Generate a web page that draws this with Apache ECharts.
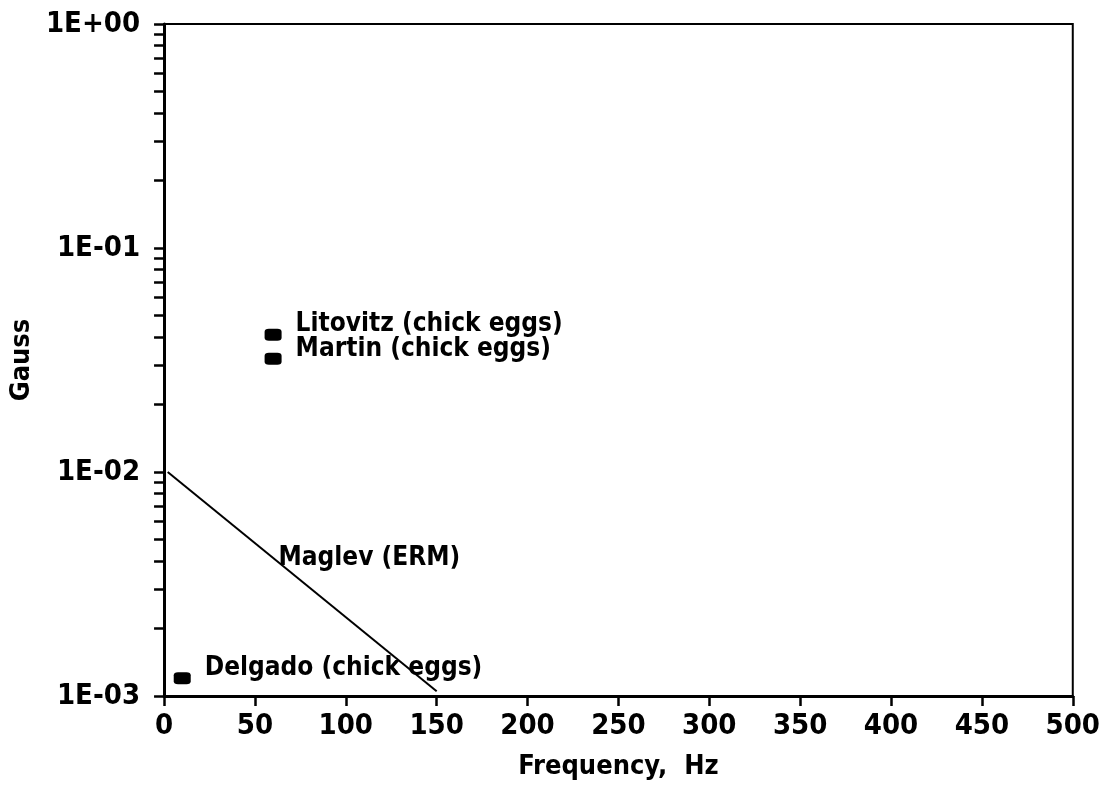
<!DOCTYPE html>
<html>
<head>
<meta charset="utf-8">
<script src="https://cdn.jsdelivr.net/npm/echarts@6/dist/echarts.min.js"></script>
<style>
html,body{margin:0;padding:0;background:#fff;}
#chart{width:1103px;height:785px;}
</style>
</head>
<body>
<div id="chart"></div>
<script>
// ---- data ----
var studyNames = ['Litovitz (chick eggs)', 'Martin (chick eggs)', 'Delgado (chick eggs)'];
var studyFreq = [60, 60, 10];
var studyGauss = [0.041, 0.032, 0.0012];

var maglevName = 'Maglev (ERM)';
var maglevFreq = [2, 150];
var maglevGauss = [0.01, 0.00105];
var maglevLabelAt = [63, 0.0041];

var xTicks = [0, 50, 100, 150, 200, 250, 300, 350, 400, 450, 500];
var yTickValues = [0.001, 0.01, 0.1, 1];
var yTickLabels = ['1E-03', '1E-02', '1E-01', '1E+00'];

// minor ticks at 1..9 x each decade
var yMinor = [];
for (var d = 0; d < yTickValues.length; d++) {
  for (var m = 1; m <= 9; m++) {
    var v = yTickValues[d] * m;
    if (v <= yTickValues[yTickValues.length - 1] + 1e-12) yMinor.push(v);
  }
}

var FONT = '"DejaVu Sans Condensed", "DejaVu Sans", sans-serif';
var chart = echarts.init(document.getElementById('chart'), null, {renderer: 'canvas'});

var scatterData = studyNames.map(function (n, i) { return {name: n, value: [studyFreq[i], studyGauss[i]]}; });

chart.setOption({
  backgroundColor: '#fff',
  animation: false,
  grid: {left: 157, right: 26, top: 24, bottom: 85, show: true, borderColor: '#000', borderWidth: 2, backgroundColor: 'transparent'},
  xAxis: {
    type: 'value', min: xTicks[0], max: xTicks[xTicks.length - 1], interval: 50,
    name: 'Frequency,  Hz', nameLocation: 'middle', nameGap: 57,
    nameTextStyle: {fontFamily: FONT, fontSize: 27, fontWeight: 'bold', color: '#000'},
    axisLine: {show: true, lineStyle: {color: '#000', width: 3}},
    axisTick: {show: true, inside: false, length: 10, lineStyle: {color: '#000', width: 2.5}},
    axisLabel: {fontFamily: FONT, fontSize: 29, fontWeight: 'bold', color: '#000', margin: 16},
    splitLine: {show: false}
  },
  yAxis: {
    type: 'log', logBase: 10, min: yTickValues[0], max: yTickValues[yTickValues.length - 1],
    name: 'Gauss', nameLocation: 'middle', nameGap: 124,
    nameTextStyle: {fontFamily: FONT, fontSize: 27, fontWeight: 'bold', color: '#000'},
    axisLine: {show: true, lineStyle: {color: '#000', width: 3}},
    axisTick: {show: true, inside: false, length: 10, customValues: yMinor, lineStyle: {color: '#000', width: 2.5}},
    axisLabel: {
      fontFamily: FONT, fontSize: 29, fontWeight: 'bold', color: '#000', margin: 24,
      customValues: yTickValues,
      formatter: function (v) {
        for (var i = 0; i < yTickValues.length; i++) {
          if (Math.abs(Math.log10(v) - Math.log10(yTickValues[i])) < 1e-6) return yTickLabels[i];
        }
        return '';
      }
    },
    splitLine: {show: false}
  },
  series: [
    {
      type: 'line',
      data: maglevFreq.map(function (f, i) { return [f, maglevGauss[i]]; }),
      showSymbol: false, symbol: 'none',
      lineStyle: {color: '#000', width: 2},
      z: 3
    },
    {
      type: 'scatter',
      data: scatterData,
      symbol: 'roundRect', symbolSize: [17, 12],
      itemStyle: {color: '#000', opacity: 1},
      label: {
        show: true, position: 'right', distance: 14, offset: [0, -10],
        formatter: '{b}', fontFamily: FONT, fontSize: 26, fontWeight: 'bold', color: '#000'
      },
      z: 4
    },
    {
      type: 'scatter',
      data: [{name: maglevName, value: maglevLabelAt}],
      symbolSize: 0,
      itemStyle: {opacity: 1},
      label: {
        show: true, position: 'right', distance: 0,
        formatter: '{b}', fontFamily: FONT, fontSize: 26, fontWeight: 'bold', color: '#000'
      },
      z: 5
    }
  ]
});
</script>
</body>
</html>
